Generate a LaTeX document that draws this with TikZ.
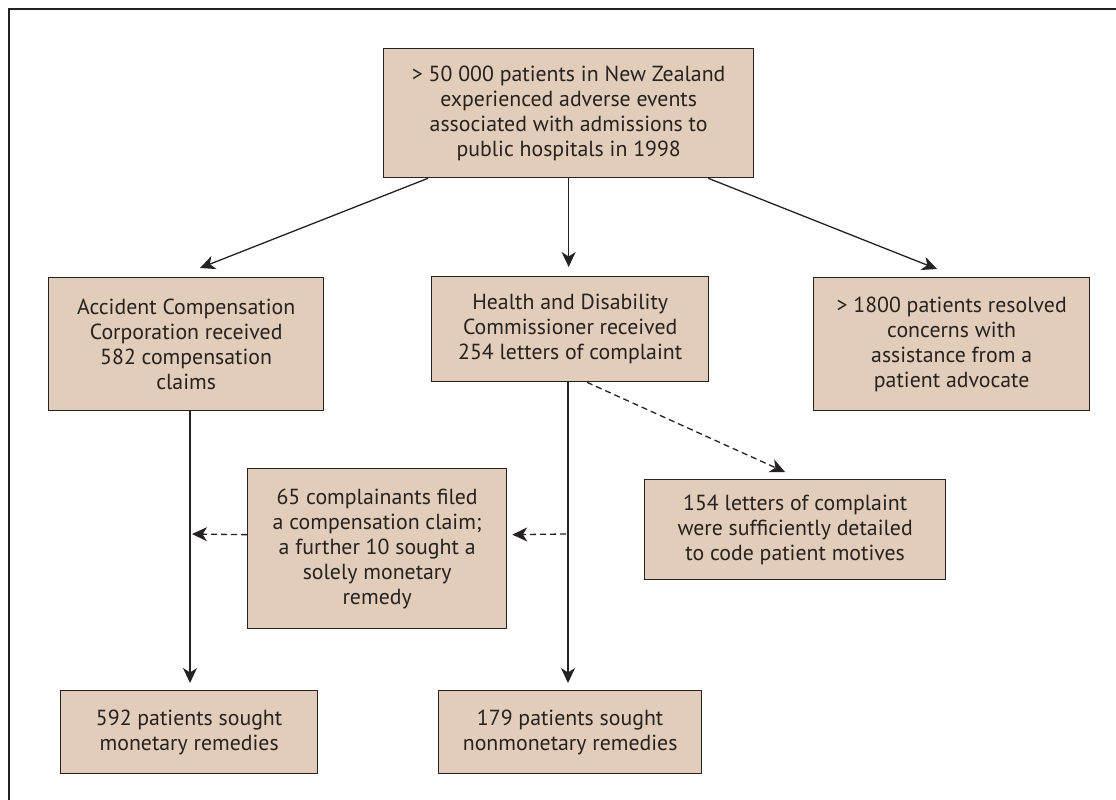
\documentclass[tikz,border=0pt]{standalone}
\usepackage{fontspec}
\setmainfont{PT Sans}
\usetikzlibrary{arrows.meta}
\definecolor{boxfill}{RGB}{225,205,185}
\definecolor{ink}{RGB}{38,34,34}
\begin{document}
\begin{tikzpicture}[x=1pt,y=-1pt,
  box/.style={draw=ink, line width=1.3pt, fill=boxfill, align=center,
    font=\fontsize{21.8}{25}\selectfont, text=ink, inner sep=0pt, anchor=north west},
  arr/.style={draw=ink, line width=1.3pt, -{Stealth[length=15pt,width=14pt,inset=4.5pt]}},
  darr/.style={arr, dash pattern=on 6pt off 4pt},
  frame/.style={draw=ink, line width=2pt}]
\useasboundingbox (0,0) rectangle (1116,800);
\fill[white] (0,0) rectangle (1116,800);
\draw[frame] (9,800) -- (9,9) -- (1116,9);

\node[box, minimum width=370pt, minimum height=129pt] (top) at (383,48)
  {> 50 000 patients in New Zealand\\experienced adverse events\\associated with admissions to\\public hospitals in 1998};
\node[box, minimum width=275pt, minimum height=133pt] (acc) at (48,277)
  {Accident Compensation\\Corporation received\\582 compensation\\claims};
\node[box, minimum width=277pt, minimum height=105pt] (hdc) at (431,276)
  {Health and Disability\\Commissioner received\\254 letters of complaint};
\node[box, minimum width=276pt, minimum height=133pt] (adv) at (813,277)
  {> 1800 patients resolved\\concerns with\\assistance from a\\patient advocate};
\node[box, minimum width=259pt, minimum height=160pt] (comp) at (247,468)
  {65 complainants filed\\a compensation claim;\\a further 10 sought a\\solely monetary\\remedy};
\node[box, minimum width=301pt, minimum height=100pt] (mot) at (644,479)
  {154 letters of complaint\\were sufficiently detailed\\to code patient motives};
\node[box, minimum width=257pt, minimum height=83pt] (mon) at (60,690)
  {592 patients sought\\monetary remedies};
\node[box, minimum width=263pt, minimum height=83pt] (non) at (438,690)
  {179 patients sought\\nonmonetary remedies};

\coordinate (jr) at (566,534);
\coordinate (jl) at (192,534);

\draw[arr] ([xshift=45pt]top.south west) -- ([xshift=152pt,yshift=9pt]acc.north west);
\draw[arr] (top.south) -- ([yshift=9pt]top.south |- hdc.north);
\draw[arr] ([xshift=-46pt]top.south east) -- ([xshift=124pt,yshift=8pt]adv.north west);
\draw[arr] ([xshift=142pt]acc.south west) -- ([xshift=130pt,yshift=7pt]mon.north west);
\draw[arr] ([xshift=137pt]hdc.south west) -- ([xshift=130pt,yshift=7pt]non.north west);
\draw[darr] (jr) -- ([xshift=5pt,yshift=14pt]comp.east);
\draw[darr] ([yshift=14pt]comp.west) -- (jl);
\draw[darr] ([xshift=156pt]hdc.south west) -- ([xshift=141pt,yshift=7pt]mot.north west);
\end{tikzpicture}
\end{document}
